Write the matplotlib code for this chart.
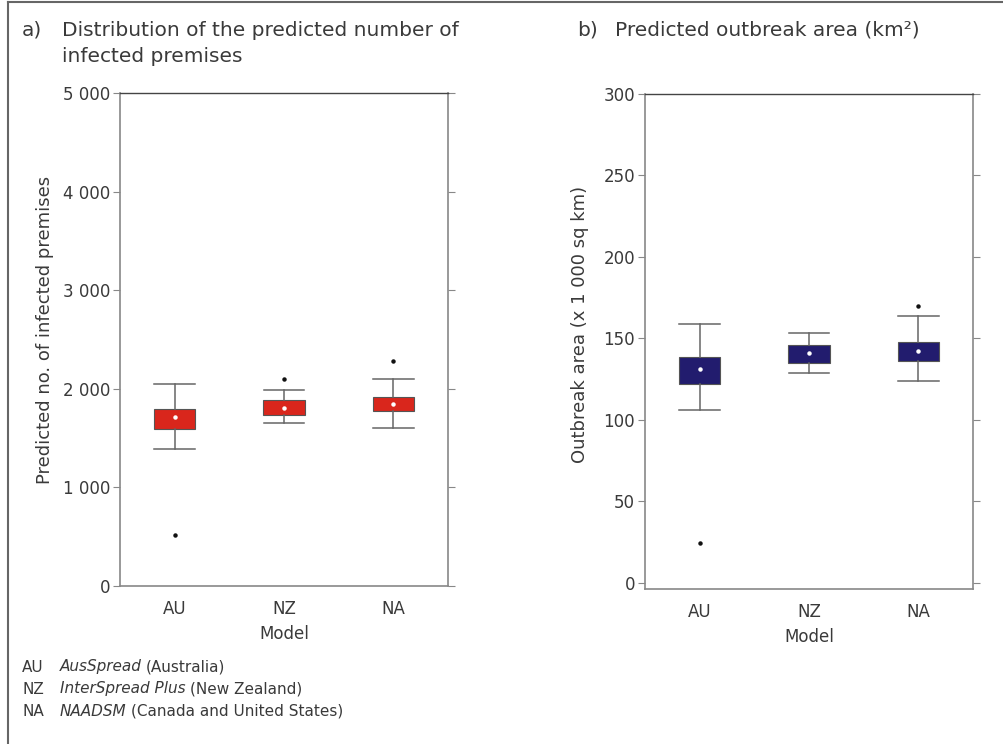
import matplotlib
matplotlib.use('Agg')
import matplotlib.pyplot as plt
from matplotlib.lines import Line2D

models = ['AU', 'NZ', 'NA']

# a) predicted number of infected premises
ip_whislo = [1390, 1657, 1600]
ip_q1 = [1590, 1738, 1778]
ip_mean = [1711, 1809, 1846]
ip_q3 = [1792, 1883, 1917]
ip_whishi = [2045, 1991, 2103]
ip_fliers = [[514], [2096], [2282]]

# b) predicted outbreak area (x 1 000 sq km)
area_whislo = [105.8, 128.6, 123.7]
area_q1 = [121.9, 134.8, 135.8]
area_mean = [131.0, 140.9, 142.3]
area_q3 = [138.3, 145.7, 148.0]
area_whishi = [158.9, 153.5, 163.5]
area_fliers = [[24.5], [], [169.9]]

footnotes = [('AU', 'AusSpread', '(Australia)'),
             ('NZ', 'InterSpread Plus', '(New Zealand)'),
             ('NA', 'NAADSM', '(Canada and United States)')]

plt.rcParams['font.family'] = ['DejaVu Sans']
TXT = '#3a3a3a'
SPINE = '#888888'


def make_stats(lo, q1, mean, q3, hi, fl):
    st = []
    for i in range(len(lo)):
        st.append(dict(whislo=lo[i], q1=q1[i], med=mean[i], mean=mean[i],
                       q3=q3[i], whishi=hi[i], fliers=fl[i]))
    return st


def draw_panel(ax, stats, color, ylim, yticks, ylabels, ylabel, ylab_xy):
    ax.bxp(stats, positions=[1, 2, 3], widths=0.38, patch_artist=True,
           showmeans=True, shownotches=False,
           boxprops=dict(facecolor=color, edgecolor='#555555', linewidth=0.8),
           medianprops=dict(color=color, linewidth=0),
           whiskerprops=dict(color='#666666', linewidth=1.1),
           capprops=dict(color='#666666', linewidth=1.1),
           capwidths=0.37,
           meanprops=dict(marker='o', markerfacecolor='white', markeredgecolor='white',
                          markersize=2.2),
           flierprops=dict(marker='o', markerfacecolor='#111111', markeredgecolor='#111111',
                           markersize=2.2))
    ax.set_xlim(0.5, 3.5)
    ax.set_ylim(*ylim)
    ax.set_xticks([1, 2, 3])
    ax.set_xticklabels(models, fontsize=12, color=TXT)
    ax.set_yticks(yticks)
    ax.set_yticklabels(ylabels, fontsize=12, color=TXT)
    ax.tick_params(axis='x', length=0, pad=10)
    ax.tick_params(axis='y', which='both', direction='out', length=5, color=SPINE,
                   right=True, pad=2)
    ax.set_xlabel('Model', fontsize=12, color=TXT, labelpad=5)
    ax.set_ylabel(ylabel, fontsize=13, color=TXT)
    ax.yaxis.set_label_coords(*ylab_xy)
    for s in ['left', 'right', 'bottom']:
        ax.spines[s].set_color(SPINE)
        ax.spines[s].set_linewidth(1.2)
    ax.spines['top'].set_color('#444444')
    ax.spines['top'].set_linewidth(1.0)


fig = plt.figure(figsize=(10.04, 7.44), dpi=100)
ax1 = fig.add_axes([0.1195, 0.2124, 0.3267, 0.6626])
ax2 = fig.add_axes([0.6424, 0.2083, 0.3267, 0.6653])

draw_panel(ax1, make_stats(ip_whislo, ip_q1, ip_mean, ip_q3, ip_whishi, ip_fliers),
           '#d9261c', (0, 5000), [0, 1000, 2000, 3000, 4000, 5000],
           ['0', '1 000', '2 000', '3 000', '4 000', '5 000'],
           'Predicted no. of infected premises', (-0.2, 0.52))
draw_panel(ax2, make_stats(area_whislo, area_q1, area_mean, area_q3, area_whishi, area_fliers),
           '#221c6e', (-4, 300), [0, 50, 100, 150, 200, 250, 300],
           ['0', '50', '100', '150', '200', '250', '300'],
           'Outbreak area (x 1 000 sq km)', (-0.17, 0.535))

# panel titles
fig.text(22 / 1004, 1 - 30 / 744, 'a)', fontsize=14.5, color=TXT, va='center')
fig.text(62 / 1004, 1 - 30 / 744, 'Distribution of the predicted number of',
         fontsize=14.5, color=TXT, va='center')
fig.text(62 / 1004, 1 - 57 / 744, 'infected premises', fontsize=14.5, color=TXT, va='center')
fig.text(577 / 1004, 1 - 30 / 744, 'b)', fontsize=14.5, color=TXT, va='center')
fig.text(615 / 1004, 1 - 30 / 744, 'Predicted outbreak area (km²)',
         fontsize=14.5, color=TXT, va='center')

# footnotes
for i, (code, name, rest) in enumerate(footnotes):
    y = 1 - (667 + 22 * i) / 744
    fig.text(22 / 1004, y, code, fontsize=11, color=TXT, va='center')
    t = fig.text(60 / 1004, y, name, fontsize=11, color=TXT, va='center', style='italic')
    fig.canvas.draw()
    bb = t.get_window_extent()
    fig.text((bb.x1 + 4) / 1004, y, rest, fontsize=11, color=TXT, va='center')

# outer frame (top and left edges)
fig.add_artist(Line2D([8 / 1004, 1], [1 - 2 / 744, 1 - 2 / 744], transform=fig.transFigure,
                      color='#666666', linewidth=1.5))
fig.add_artist(Line2D([8 / 1004, 8 / 1004], [0, 1 - 2 / 744], transform=fig.transFigure,
                      color='#666666', linewidth=1.5))

fig.savefig('out.png', dpi=100)
